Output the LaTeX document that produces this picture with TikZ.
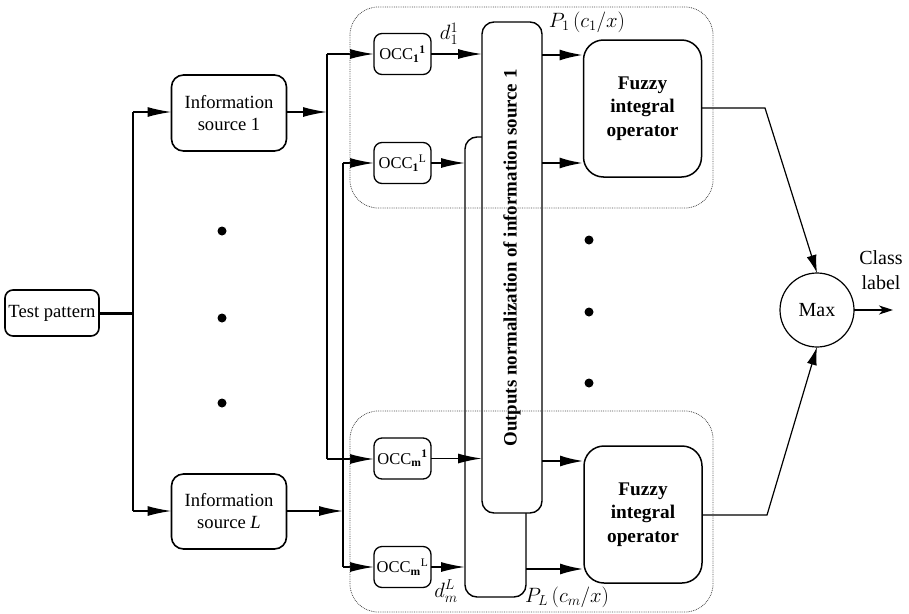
\documentclass[tikz,border=0pt]{standalone}
\usepackage{fontspec}
\setmainfont{Liberation Serif}
\usetikzlibrary{arrows.meta}

\newcommand{\occlabel}[2]{OCC\textsubscript{#1}\textsuperscript{#2}}

\begin{document}
\begin{tikzpicture}[x=1pt,y=-1pt,
  every node/.style={inner sep=0pt, outer sep=0pt},
  plainbox/.style={draw, line width=1.6pt, rounded corners=12pt, align=center,
    font=\fontsize{18.6}{22}\selectfont},
  occbox/.style={draw, line width=1.3pt, rounded corners=8pt, minimum width=57pt,
    minimum height=41pt, font=\fontsize{16.5}{18}\selectfont},
  fuzzybox/.style={draw, line width=1.5pt, rounded corners=20pt, align=center,
    minimum width=118pt, minimum height=137pt,
    font=\fontsize{19.3}{23.5}\selectfont\bfseries},
  normbox/.style={draw, line width=1.4pt, rounded corners=12pt, fill=white},
  group/.style={draw=black!70, densely dotted, line width=0.8pt, rounded corners=28pt},
  wire/.style={line width=1.5pt},
  arr/.style={wire, -{Latex[length=24pt,width=10pt]}},
  thickarr/.style={line width=2.6pt, -{Latex[length=24pt,width=11pt]}},
  maxarr/.style={line width=1.2pt, -{Latex[length=18pt,width=10pt]}},
  outarr/.style={line width=1.2pt, -{Stealth[length=14pt,width=9pt,inset=4pt]}},
  dotmark/.style={fill=black, circle, minimum size=9pt},
  mathlbl/.style={font=\fontsize{21.5}{24}\selectfont}
]
\useasboundingbox (0,0) rectangle (909,613);

% ---- source blocks ----
\node[plainbox, minimum width=94pt, minimum height=46pt, rounded corners=8pt] (tp) at (52,313) {Test pattern};
\node[plainbox, minimum width=115pt, minimum height=76pt] (is1) at (229,113) {Information\\source 1};
\node[plainbox, minimum width=115pt, minimum height=75pt] (isL) at (229,511.5) {Information\\source \textit{L}};

\foreach \y [count=\i] in {231,318,403} \node[dotmark] (ldot\i) at (222,\y) {};
\foreach \y [count=\i] in {240,312,383} \node[dotmark] (rdot\i) at (589,\y) {};

% ---- one-class classifiers ----
\node[occbox] (occ11) at (402.5,54) {\occlabel{\textbf{1}}{\textbf{1}}};
\node[occbox] (occ1L) at (402.5,163) {\occlabel{\textbf{1}}{L}};
\node[occbox] (occm1) at (402.5,458.5) {\occlabel{\textbf{m}}{\textbf{1}}};
\node[occbox] (occmL) at (402.5,567) {\occlabel{\textbf{m}}{L}};

% ---- normalization blocks ----
\draw[normbox] (465,137) rectangle (526,597);
\draw[normbox] (482,22) rectangle (542,513);
\node[rotate=90, font=\fontsize{18.9}{22}\selectfont\bfseries] (normtxt) at (512,258)
  {Outputs normalization of information source 1};

% ---- fuzzy integral operators and decision ----
\node[fuzzybox] (fz1) at (642.5,108.5) {Fuzzy\\integral\\operator};
\node[fuzzybox] (fz2) at (643,514.5) {Fuzzy\\integral\\operator};
\node[draw, circle, line width=1.2pt, minimum size=74pt, font=\fontsize{20}{22}\selectfont] (mx) at (817,310) {Max};

% ---- junction points ----
\coordinate (ja) at (133,313);
\coordinate (jaT) at (133,112);
\coordinate (jaB) at (133,511);
\coordinate (jb) at (327,112);
\coordinate (jbT) at (327,54);
\coordinate (jbB) at (327,459);
\coordinate (jc) at (343,511);
\coordinate (jcT) at (343,163);
\coordinate (jcB) at (343,567);
\coordinate (k1) at (765,108);
\coordinate (k2) at (767,515);
\coordinate (cls) at (893,310);

% ---- wiring ----
\draw[line width=3pt] (tp.east) -- (ja);
\draw[wire] (jaT) -- (jaB);
\draw[arr] (jaT) -- (jaT -| is1.west);
\draw[arr] (jaB) -- (jaB -| isL.west);

\draw[arr] (is1.east |- jb) -- (jb);
\draw[wire] (jbT) -- (jbB);
\draw[arr] (jbT) -- (occ11.west);
\draw[arr] (jbB) -- (jbB -| occm1.west);

\draw[arr] (isL.east |- jc) -- (jc);
\draw[wire] (jcT) -- (jcB);
\draw[arr] (jcT) -- (occ1L.west);
\draw[arr] (jcB) -- (occmL.west);

\draw[arr] (occ11.east) -- (482,54);
\draw[arr] (occ1L.east) -- (465,163);
\draw[arr] (occm1.east) -- (482,458.5);
\draw[arr] (occmL.east) -- (465,567);

\draw[thickarr] (542,55) -- (fz1.west |- 0,55);
\draw[thickarr] (542,163) -- (fz1.west |- 0,163);
\draw[thickarr] (542,461) -- (fz2.west |- 0,461);
\draw[thickarr] (526,569) -- (fz2.west |- 0,569);

\draw[maxarr] (fz1.east |- k1) -- (k1) -- (mx.north);
\draw[maxarr] (fz2.east |- k2) -- (k2) -- (mx.south);
\draw[outarr] (mx.east) -- (cls);

% ---- labels ----
\node[mathlbl] (d11) at (449,34) {$d_1^1$};
\node[mathlbl] (p1) at (587,22) {$P_1\,(c_1/x)$};
\node[mathlbl] (dml) at (446,591) {$d_m^L$};
\node[mathlbl] (pl) at (567,597) {$P_L\,(c_m/x)$};
\node[align=center, font=\fontsize{20}{25}\selectfont] (clbl) at (881,270) {Class\\label};

% ---- classifier groups ----
\draw[group] (350,7) rectangle (713,208);
\draw[group] (350,411) rectangle (713,612);
\end{tikzpicture}
\end{document}
